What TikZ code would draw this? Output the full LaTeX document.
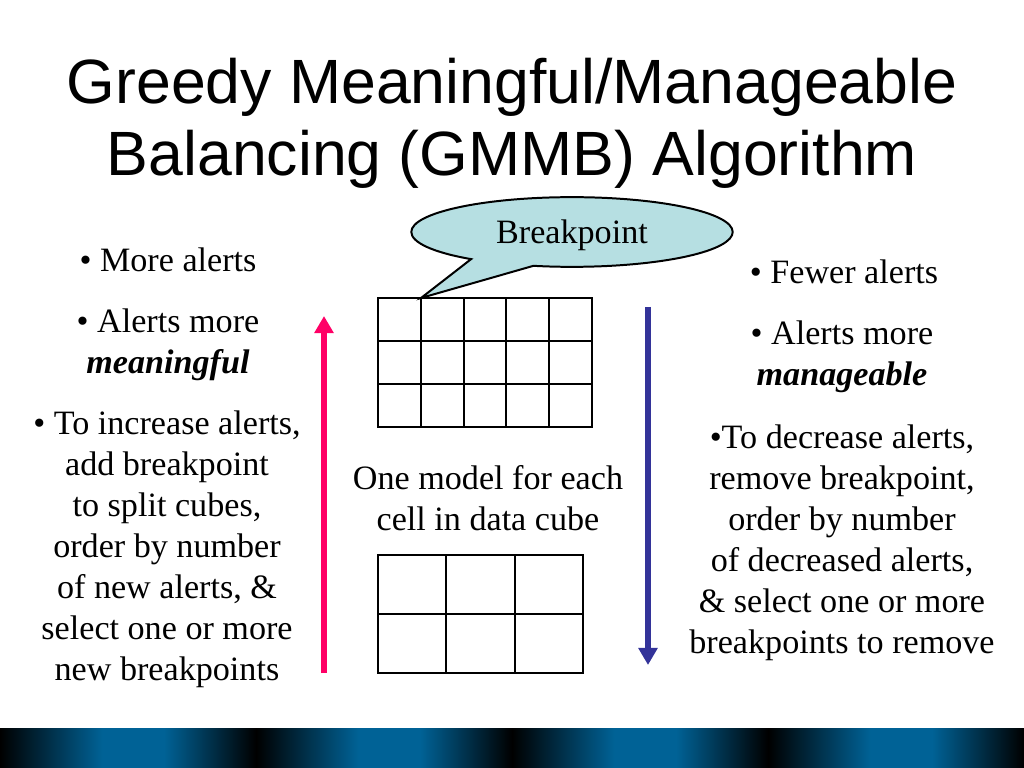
\documentclass[tikz,border=0pt]{standalone}
\usepackage{fontspec}
\setmainfont{Liberation Serif}
\newfontfamily\titlefont{Liberation Sans}
\usetikzlibrary{arrows.meta, shapes.callouts}
\definecolor{alertpink}{RGB}{255,0,102}
\definecolor{alertblue}{RGB}{51,51,153}
\definecolor{calloutfill}{RGB}{182,223,226}
\definecolor{bandblue}{RGB}{0,98,150}
% path is mapped onto 25bp..75bp of the shading
\pgfdeclarehorizontalshading{bandshade}{100bp}{color(0bp)=(black); color(25bp)=(black); color(45bp)=(bandblue); color(57bp)=(bandblue); color(75bp)=(black); color(100bp)=(black)}

\begin{document}
\begin{tikzpicture}[x=0.703125pt, y=-0.703125pt,
  coltext/.style={font=\fontsize{24}{28.8}\selectfont, align=center, anchor=base, inner sep=0pt},
  cell/.style={draw, line width=1.4pt},
  alertarrow/.style={line width=4.5pt, -{Triangle[length=12pt,width=13pt]}}]
  \useasboundingbox (0,0) rectangle (1024,768);
  % title (base = last line)
  \node[font=\titlefont\fontsize{44}{51.3}\selectfont, align=center, anchor=base, inner sep=0pt]
    (title) at (512,176) {Greedy Meaningful/Manageable\\Balancing (GMMB) Algorithm};
  % grids
  \foreach \c in {0,...,4} {
    \foreach \r in {0,...,2} {
      \draw[cell] (378+\c*42.8,298+\r*43) rectangle ++(42.8,43);
    }
  }
  \foreach \c in {0,...,2} {
    \foreach \r in {0,...,1} {
      \draw[cell] (378+\c*68.3,555+\r*59) rectangle ++(68.3,59);
    }
  }
  % callout
  \coordinate (bp) at (421,298);
  \node[ellipse callout, draw, line width=1.4pt, fill=calloutfill,
        minimum width=226pt, minimum height=49pt, inner sep=0pt, text depth=1pt,
        callout absolute pointer={(bp)}, callout pointer arc=25,
        font=\fontsize{24}{28.8}\selectfont] (breakpoint) at (572,232) {Breakpoint};
  % arrows
  \coordinate (pinkstart) at (324,673);
  \coordinate (pinkend) at (324,316);
  \coordinate (bluestart) at (648,307);
  \coordinate (blueend) at (648,665);
  \draw[alertarrow, alertpink] (pinkstart) -- (pinkend);
  \draw[alertarrow, alertblue] (bluestart) -- (blueend);
  % left column
  \node[coltext] (moreAlerts) at (168,272) {• More alerts};
  \node[coltext] (meaningful) at (168,373) {• Alerts more\\\textbf{\textit{meaningful}}};
  \node[coltext] (increase) at (167,680) {• To increase alerts,\\add breakpoint\\to split cubes,\\order by number\\of new alerts, \&\\select one or more\\new breakpoints};
  % center
  \node[coltext] (oneModel) at (488,530) {One model for each\\cell in data cube};
  % right column
  \node[coltext] (fewerAlerts) at (844,283) {• Fewer alerts};
  \node[coltext] (manageable) at (842,385) {• Alerts more\\\textbf{\textit{manageable}}};
  \node[coltext] (decrease) at (842,653) {•To decrease alerts,\\remove breakpoint,\\order by number\\of decreased alerts,\\\& select one or more\\breakpoints to remove};
  % bottom band
  \foreach \i in {0,...,3} {
    \shade[shading=bandshade] (\i*256,728) rectangle ++(256,40);
  }
\end{tikzpicture}
\end{document}
